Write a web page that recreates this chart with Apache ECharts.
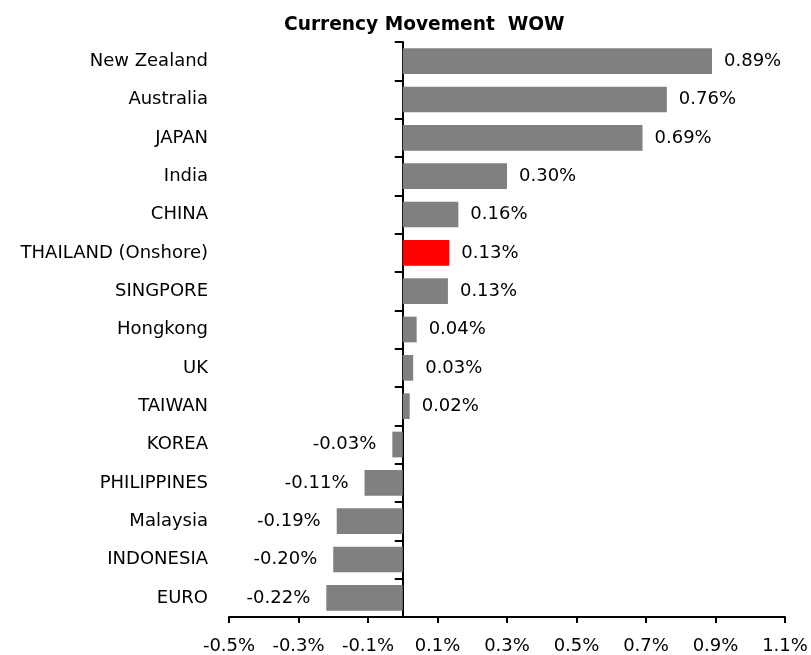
<!DOCTYPE html>
<html>
<head>
<meta charset="utf-8">
<script src="https://cdn.jsdelivr.net/npm/echarts@6/dist/echarts.min.js"></script>
<style>
  html, body { margin: 0; padding: 0; background: #fff; }
  #chart { width: 811px; height: 655px; }
</style>
</head>
<body>
<div id="chart"></div>
<script>
// categories top to bottom
const countries = ['New Zealand', 'Australia', 'JAPAN', 'India', 'CHINA', 'THAILAND (Onshore)', 'SINGPORE',
  'Hongkong', 'UK', 'TAIWAN', 'KOREA', 'PHILIPPINES', 'Malaysia', 'INDONESIA', 'EURO']
// weekly move, percent
const moves = [0.89, 0.76, 0.69, 0.30, 0.16, 0.134, 0.13, 0.04, 0.03, 0.02, -0.03, -0.11, -0.19, -0.20, -0.22]
const highlight = 'THAILAND (Onshore)'
// x axis tick labels
const xTicks = [-0.5, -0.3, -0.1, 0.1, 0.3, 0.5, 0.7, 0.9, 1.1]

const font = 'DejaVu Sans'

//每个柱子的颜色和标签位置
const barData = moves.map((v, i) => ({
  value: v,
  itemStyle: { color: countries[i] === highlight ? '#ff0000' : '#808080' },
  label: { position: v < 0 ? 'left' : 'right', distance: v < 0 ? 16 : 12 }
}))

const myCharts = echarts.init(document.getElementById('chart'))
myCharts.setOption({
  animation: false,
  title: {
    text: 'Currency Movement  WOW',
    left: 284,
    top: 16,
    padding: 0,
    textStyle: { fontFamily: font, fontSize: 18.6, fontWeight: 'bold', color: '#000' }
  },
  grid: { left: 229, right: 26, top: 42, bottom: 38, outerBoundsMode: 'none', containLabel: false },
  xAxis: {
    type: 'value',
    min: -0.5,
    max: 1.1,
    axisLine: { show: true, lineStyle: { color: '#000', width: 2 } },
    axisTick: { show: true, length: 6, customValues: xTicks, lineStyle: { color: '#000', width: 2 } },
    axisLabel: {
      customValues: xTicks,
      margin: 20,
      fontFamily: font,
      fontSize: 18,
      color: '#000',
      formatter: v => v.toFixed(1) + '%'
    },
    splitLine: { show: false }
  },
  yAxis: {
    type: 'category',
    data: countries,
    inverse: true,
    axisLine: { onZero: true, lineStyle: { color: '#000', width: 2 } },
    axisTick: { show: true, length: 8, lineStyle: { color: '#000', width: 2 } },
    // 标签停在网格左边，不随零轴移动
    axisLabel: { margin: 21, fontFamily: font, fontSize: 18, color: '#000' }
  },
  series: [{
    type: 'bar',
    data: barData,
    barCategoryGap: '33%',
    label: {
      show: true,
      fontFamily: font,
      fontSize: 18,
      color: '#000',
      formatter: p => p.value.toFixed(2) + '%'
    }
  }]
})
</script>
</body>
</html>
